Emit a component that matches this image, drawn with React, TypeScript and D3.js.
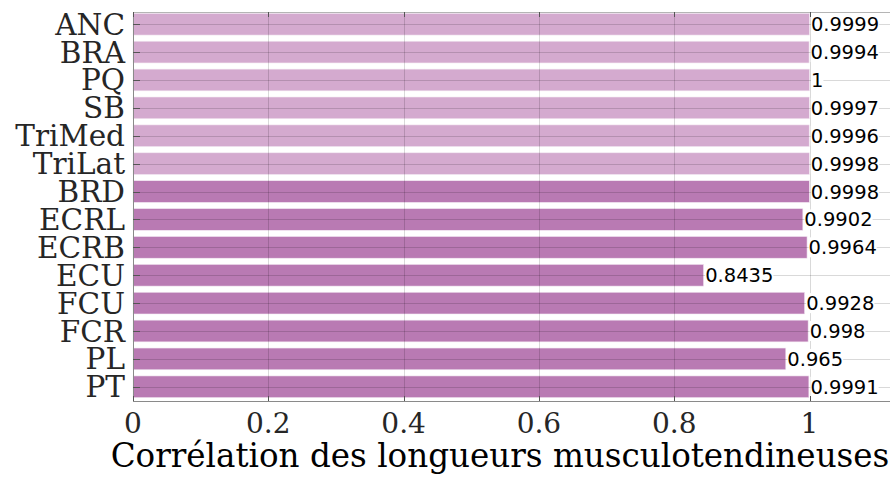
import React, { useEffect, useRef } from 'react';
import * as d3 from 'd3';

const muscles = ['ANC', 'BRA', 'PQ', 'SB', 'TriMed', 'TriLat', 'BRD', 'ECRL', 'ECRB', 'ECU', 'FCU', 'FCR', 'PL', 'PT'];
const correlations = [0.9999, 0.9994, 1, 0.9997, 0.9996, 0.9998, 0.9998, 0.9902, 0.9964, 0.8435, 0.9928, 0.998, 0.965, 0.9991];
const groups = ['light', 'light', 'light', 'light', 'light', 'light', 'dark', 'dark', 'dark', 'dark', 'dark', 'dark', 'dark', 'dark'];
const xTicks = [0, 0.2, 0.4, 0.6, 0.8, 1, 1.2];
const xLabel = 'Corrélation des longueurs musculotendineuses';

const W = 890;
const H = 477;

export default function App() {
  const svgRef = useRef<SVGSVGElement>(null);

  useEffect(() => {
    if (!svgRef.current) return;
    const svg = d3.select(svgRef.current);
    svg.selectAll('*').remove();

    const left = 133;
    const top = 12;
    const bottom = 401;

    // x: 0 -> 133, 1 -> 809.5 ; the axes run on past the window edge
    const x = d3.scaleLinear().domain([0, 1]).range([left, 809.5]);
    const right = x(1.2);

    const y = d3.scalePoint<string>().domain(muscles).range([24.2, 386.8]);
    const barH = y.step() * 0.78;

    const color = d3.scaleOrdinal<string, string>()
      .domain(['light', 'dark'])
      .range(['#d4aacf', '#b97ab3']);

    const data = muscles.map((m, i) => ({ name: m, value: correlations[i], group: groups[i] }));

    // bars
    svg.append('g')
      .selectAll('rect')
      .data(data)
      .enter().append('rect')
      .attr('x', x(0))
      .attr('y', d => (y(d.name) as number) - barH / 2)
      .attr('width', d => x(d.value) - x(0))
      .attr('height', barH)
      .attr('fill', d => color(d.group))
      .attr('stroke', '#f4eaf3')
      .attr('stroke-width', 0.6);

    // grid drawn over the bars
    const grid = svg.append('g').attr('stroke', 'rgba(0,0,0,0.15)').attr('stroke-width', 1);
    grid.selectAll('.vg')
      .data(xTicks)
      .enter().append('line')
      .attr('x1', d => Math.round(x(d)) + 0.5)
      .attr('x2', d => Math.round(x(d)) + 0.5)
      .attr('y1', top)
      .attr('y2', bottom);
    grid.selectAll('.hg')
      .data(muscles)
      .enter().append('line')
      .attr('x1', left)
      .attr('x2', right)
      .attr('y1', d => Math.round(y(d) as number) + 0.5)
      .attr('y2', d => Math.round(y(d) as number) + 0.5);

    // value labels, white box behind each
    const labels = svg.append('g')
      .style('font-family', '"DejaVu Sans", sans-serif')
      .style('font-size', '19.5px')
      .attr('fill', '#000');
    data.forEach(d => {
      const g = labels.append('g');
      const t = g.append('text')
        .attr('x', x(d.value) + 1.5)
        .attr('y', (y(d.name) as number) + 7)
        .text(String(d.value));
      const bb = (t.node() as SVGTextElement).getBBox();
      g.insert('rect', 'text')
        .attr('x', bb.x)
        .attr('y', (y(d.name) as number) - 10)
        .attr('width', bb.width)
        .attr('height', 20)
        .attr('fill', '#fff');
    });

    // axes box
    const axisColor = '#8a8a8a';
    svg.append('line').attr('x1', left + 0.5).attr('x2', left + 0.5).attr('y1', top).attr('y2', bottom + 0.5)
      .attr('stroke', axisColor);
    svg.append('line').attr('x1', left).attr('x2', right).attr('y1', bottom + 0.5).attr('y2', bottom + 0.5)
      .attr('stroke', axisColor);
    svg.append('line').attr('x1', left).attr('x2', right).attr('y1', top + 0.5).attr('y2', top + 0.5)
      .attr('stroke', '#b5b5b5');

    // ticks
    const ticks = svg.append('g').attr('stroke', '#555').attr('stroke-width', 1);
    muscles.forEach(m => {
      const yy = Math.round(y(m) as number) + 0.5;
      ticks.append('line').attr('x1', left).attr('x2', left + 7).attr('y1', yy).attr('y2', yy);
    });
    xTicks.forEach(t => {
      const xx = Math.round(x(t)) + 0.5;
      ticks.append('line').attr('x1', xx).attr('x2', xx).attr('y1', top).attr('y2', top + 5);
      ticks.append('line').attr('x1', xx).attr('x2', xx).attr('y1', bottom).attr('y2', bottom - 5);
    });

    // y tick labels
    svg.append('g')
      .style('font-family', '"DejaVu Serif", serif')
      .style('font-size', '29.5px')
      .attr('fill', '#262626')
      .selectAll('text')
      .data(muscles)
      .enter().append('text')
      .attr('x', left - 8)
      .attr('y', d => (y(d) as number) + 10.5)
      .attr('text-anchor', 'end')
      .text(d => d);

    // x tick labels
    svg.append('g')
      .style('font-family', '"DejaVu Serif", serif')
      .style('font-size', '28px')
      .attr('fill', '#262626')
      .selectAll('text')
      .data(xTicks.filter(t => t <= 1))
      .enter().append('text')
      .attr('x', d => x(d))
      .attr('y', 433)
      .attr('text-anchor', 'middle')
      .text(d => String(d));

    // x axis title
    svg.append('text')
      .attr('x', 500)
      .attr('y', 467)
      .attr('text-anchor', 'middle')
      .style('font-family', '"DejaVu Serif", serif')
      .style('font-size', '32.6px')
      .attr('fill', '#000')
      .text(xLabel);
  }, []);

  return (
    <svg
      ref={svgRef}
      width={W}
      height={H}
      style={{ position: 'absolute', left: 0, top: 0, display: 'block', background: '#fff' }}
    />
  );
}
